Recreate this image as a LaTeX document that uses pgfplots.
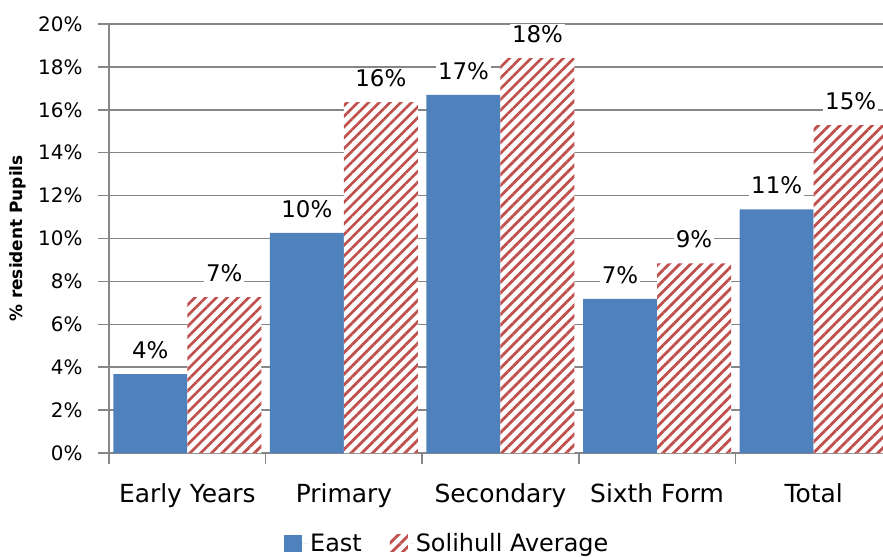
\documentclass[border=0pt]{standalone}
\usepackage{pgfplots}
\pgfplotsset{compat=1.18}
\usepackage{fontspec}
\setmainfont{DejaVu Sans}
\usetikzlibrary{patterns.meta}
\definecolor{eastblue}{RGB}{79,129,189}
\definecolor{solred}{RGB}{192,80,77}
\definecolor{gridgray}{RGB}{134,134,134}
\begin{document}
\begin{tikzpicture}
\begin{axis}[
  scale only axis, width=774bp, height=429bp,
  ymin=0, ymax=20, xmin=-0.5, xmax=4.443,
  ybar=0pt, bar width=74bp,
  axis lines*=left,
  axis line style={-, draw=gridgray, line width=1.5bp},
  ymajorgrids, grid style={gridgray, line width=1.5bp},
  ytick={0,2,...,20},
  yticklabel={\pgfmathprintnumber{\tick}\%},
  /pgf/number format/assume math mode=true,
  yticklabel style={font=\fontsize{20}{20}\selectfont, xshift=-12bp},
  tick align=outside,
  major tick length=11bp,
  tick style={draw=gridgray, line width=1.5bp},
  xtick={-0.5,0.5,1.5,2.5,3.5},
  xticklabels={},
  extra x ticks={0,1,2,3,4},
  extra x tick labels={Early Years,Primary,Secondary,Sixth Form,Total},
  extra x tick style={major tick length=0pt, grid=none,
     xticklabel style={font=\fontsize{25}{25}\selectfont, yshift=-27bp}},
  ylabel={\bfseries\% resident Pupils},
  every axis y label/.style={at={(rel axis cs:0,0.5)}, xshift=-91bp, rotate=90, anchor=center, font=\fontsize{17}{17}\selectfont},
  nodes near coords={\pgfmathprintnumber[fixed,precision=0]{\pgfplotspointmeta}\%},
  every node near coord/.append style={font=\fontsize{23}{23}\selectfont, text=black, fill=white, inner sep=2bp, anchor=south, yshift=13bp},
  legend columns=2,
  legend style={draw=none, at={(0.437,-0.21)}, anchor=center, font=\fontsize{24}{24}\selectfont,
    /tikz/every even column/.append style={column sep=26bp}},
  legend image code/.code={\draw[#1, draw=none] (0bp,-8.5bp) rectangle (18bp,8.5bp); \path (0bp,0bp) -- (24bp,0bp);},
  clip=false,
]
\addplot[draw=none, fill=eastblue] coordinates {(0,3.68) (1,10.26) (2,16.69) (3,7.18) (4,11.36)};
\addplot[draw=none, fill=white, postaction={pattern={Lines[angle=45,distance=7.6bp,line width=2.8bp]}, pattern color=solred}] coordinates {(0,7.27) (1,16.36) (2,18.41) (3,8.84) (4,15.29)};
\legend{East, Solihull Average}
\end{axis}
\pgfresetboundingbox
\path[use as bounding box] ([shift={(-109bp,-104bp)}]current axis.south west) rectangle ([shift={(0bp,24bp)}]current axis.north east);
\end{tikzpicture}
\end{document}
